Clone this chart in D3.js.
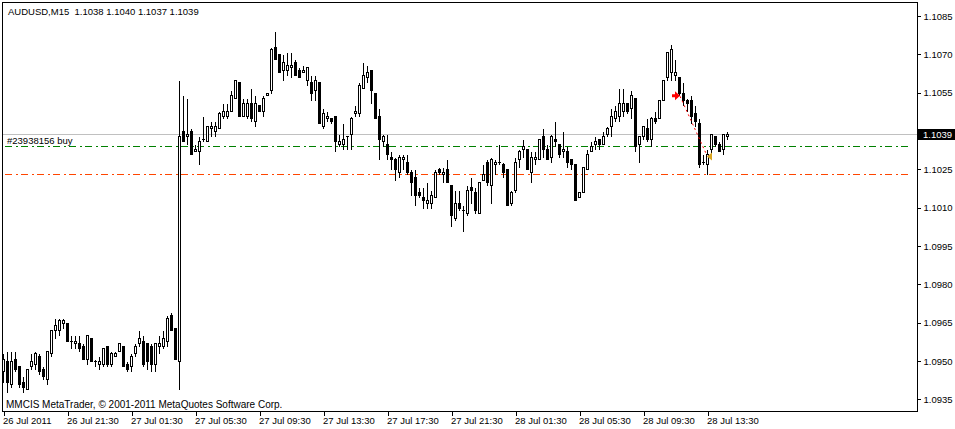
<!DOCTYPE html>
<html><head><meta charset="utf-8">
<script src="https://cdn.jsdelivr.net/npm/d3@7"></script>
<style>
html,body{margin:0;padding:0;background:#fff;}
svg{display:block;}
text{font-family:"Liberation Sans",Arial,sans-serif;font-size:9.5px;fill:#000;white-space:pre;}
</style></head><body>
<svg id="c" width="955" height="429"></svg>
<script>
const symbolTitle = "AUDUSD,M15  1.1038 1.1040 1.1037 1.1039";
const copyright = "MMCIS MetaTrader, \u00a9 2001-2011 MetaQuotes Software Corp.";
const orderLabel = "#23938156 buy";

const opens = [
1.0946,1.0950,1.0941,1.0951,1.0948,1.0942,1.0939,1.0948,1.0949,1.0952,
1.0947,1.0943,1.0953,1.0962,1.0962,1.0965,1.0965,1.0958,1.0957,1.0957,
1.0956,1.0951,1.0959,1.0950,1.0949,1.0949,1.0956,1.0949,1.0952,1.0954,
1.0956,1.0949,1.0948,1.0953,1.0957,1.0958,1.0957,1.0956,1.0949,1.0956,
1.0956,1.0958,1.0968,1.0963,1.0950,1.1040,1.1038,1.1040,1.1032,1.1032,
1.1037,1.1036,1.1041,1.1040,1.1041,1.1046,1.1046,1.1048,1.1053,1.1059,
1.1046,1.1046,1.1051,1.1044,1.1050,1.1048,1.1054,1.1056,1.1073,1.1070,
1.1064,1.1064,1.1065,1.1067,1.1064,1.1063,1.1060,1.1059,1.1056,1.1059,
1.1042,1.1045,1.1045,1.1046,1.1035,1.1035,1.1038,1.1039,1.1047,1.1047,
1.1057,1.1061,1.1064,1.1055,1.1046,1.1036,1.1035,1.1030,1.1029,1.1024,
1.1029,1.1028,1.1024,1.1022,1.1016,1.1014,1.1012,1.1012,1.1014,1.1025,
1.1023,1.1025,1.1019,1.1006,1.1012,1.1009,1.1008,1.1018,1.1016,1.1008,
1.1021,1.1028,1.1019,1.1027,1.1028,1.1027,1.1025,1.1012,1.1017,1.1029,
1.1033,1.1033,1.1024,1.1029,1.1029,1.1038,1.1033,1.1030,1.1037,1.1035,
1.1032,1.1032,1.1029,1.1027,1.1014,1.1016,1.1025,1.1032,1.1035,1.1037,
1.1035,1.1039,1.1042,1.1045,1.1046,1.1048,1.1051,1.1049,1.1053,1.1035,
1.1038,1.1041,1.1037,1.1045,1.1045,1.1052,1.1061,1.1063,1.1062,1.1061,
1.1055,1.1052,1.1052,1.1047,1.1043,1.1028,1.1027,1.1033,1.1038,1.1035,
1.1033,1.1038];
const highs = [
1.0953,1.0954,1.0954,1.0954,1.0948,1.0944,1.0947,1.0953,1.0954,1.0953,
1.0948,1.0954,1.0962,1.0967,1.0967,1.0967,1.0965,1.0960,1.0960,1.0960,
1.0957,1.0960,1.0959,1.0951,1.0952,1.0955,1.0956,1.0954,1.0954,1.0957,
1.0956,1.0950,1.0953,1.0957,1.0962,1.0960,1.0957,1.0957,1.0957,1.0960,
1.0962,1.0968,1.0969,1.0963,1.1060,1.1054,1.1053,1.1041,1.1035,1.1038,
1.1046,1.1042,1.1044,1.1044,1.1048,1.1051,1.1051,1.1056,1.1060,1.1059,
1.1053,1.1053,1.1057,1.1054,1.1050,1.1054,1.1055,1.1073,1.1079,1.1070,
1.1070,1.1071,1.1071,1.1068,1.1065,1.1066,1.1065,1.1062,1.1062,1.1059,
1.1049,1.1048,1.1045,1.1046,1.1039,1.1043,1.1038,1.1046,1.1050,1.1059,
1.1067,1.1066,1.1064,1.1055,1.1049,1.1039,1.1039,1.1032,1.1030,1.1031,
1.1031,1.1031,1.1025,1.1025,1.1018,1.1018,1.1020,1.1017,1.1025,1.1026,
1.1026,1.1029,1.1019,1.1017,1.1017,1.1011,1.1019,1.1022,1.1018,1.1020,
1.1027,1.1029,1.1030,1.1029,1.1035,1.1028,1.1025,1.1017,1.1030,1.1033,
1.1037,1.1033,1.1032,1.1032,1.1037,1.1041,1.1035,1.1039,1.1044,1.1035,
1.1040,1.1034,1.1029,1.1027,1.1016,1.1026,1.1033,1.1036,1.1038,1.1037,
1.1040,1.1042,1.1049,1.1050,1.1057,1.1057,1.1051,1.1056,1.1053,1.1038,
1.1042,1.1045,1.1046,1.1048,1.1052,1.1060,1.1071,1.1074,1.1068,1.1061,
1.1059,1.1053,1.1054,1.1050,1.1045,1.1031,1.1033,1.1039,1.1038,1.1036,
1.1039,1.1040];
const lows = [
1.0942,1.0938,1.0940,1.0946,1.0940,1.0938,1.0939,1.0947,1.0947,1.0945,
1.0943,1.0941,1.0952,1.0959,1.0960,1.0963,1.0958,1.0955,1.0955,1.0954,
1.0951,1.0949,1.0950,1.0948,1.0947,1.0948,1.0948,1.0948,1.0952,1.0954,
1.0948,1.0946,1.0946,1.0952,1.0956,1.0948,1.0947,1.0946,1.0946,1.0953,
1.0955,1.0956,1.0962,1.0951,1.0939,1.1036,1.1035,1.1031,1.1032,1.1027,
1.1036,1.1036,1.1038,1.1038,1.1041,1.1045,1.1045,1.1048,1.1053,1.1046,
1.1046,1.1045,1.1044,1.1042,1.1048,1.1046,1.1054,1.1055,1.1068,1.1063,
1.1060,1.1062,1.1061,1.1062,1.1061,1.1063,1.1058,1.1052,1.1052,1.1043,
1.1041,1.1044,1.1043,1.1032,1.1034,1.1033,1.1033,1.1033,1.1046,1.1046,
1.1057,1.1059,1.1051,1.1045,1.1029,1.1034,1.1029,1.1025,1.1021,1.1022,
1.1025,1.1023,1.1015,1.1011,1.1014,1.1010,1.1010,1.1010,1.1014,1.1023,
1.1020,1.1020,1.1003,1.1005,1.1009,1.1001,1.1007,1.1012,1.1008,1.1008,
1.1021,1.1019,1.1012,1.1023,1.1027,1.1022,1.1011,1.1011,1.1016,1.1026,
1.1030,1.1025,1.1020,1.1027,1.1029,1.1030,1.1029,1.1028,1.1034,1.1030,
1.1030,1.1026,1.1025,1.1013,1.1014,1.1016,1.1025,1.1032,1.1033,1.1033,
1.1035,1.1038,1.1038,1.1044,1.1044,1.1046,1.1047,1.1045,1.1032,1.1028,
1.1037,1.1036,1.1034,1.1043,1.1045,1.1052,1.1060,1.1060,1.1060,1.1054,
1.1050,1.1048,1.1043,1.1042,1.1026,1.1027,1.1023,1.1030,1.1034,1.1032,
1.1031,1.1037];
const closes = [
1.0951,1.0942,1.0950,1.0947,1.0941,1.0940,1.0947,1.0950,1.0953,1.0946,
1.0944,1.0954,1.0962,1.0964,1.0966,1.0966,1.0958,1.0958,1.0958,1.0955,
1.0951,1.0960,1.0950,1.0950,1.0950,1.0955,1.0949,1.0953,1.0953,1.0957,
1.0948,1.0947,1.0952,1.0956,1.0959,1.0949,1.0950,1.0949,1.0957,1.0957,
1.0959,1.0967,1.0962,1.0951,1.1038,1.1036,1.1039,1.1031,1.1033,1.1036,
1.1037,1.1042,1.1042,1.1042,1.1047,1.1048,1.1048,1.1054,1.1060,1.1046,
1.1051,1.1051,1.1045,1.1051,1.1048,1.1053,1.1055,1.1072,1.1068,1.1063,
1.1067,1.1066,1.1066,1.1062,1.1061,1.1064,1.1065,1.1055,1.1060,1.1043,
1.1047,1.1046,1.1044,1.1036,1.1036,1.1037,1.1038,1.1045,1.1048,1.1058,
1.1062,1.1063,1.1056,1.1045,1.1037,1.1038,1.1031,1.1029,1.1025,1.1030,
1.1030,1.1024,1.1020,1.1015,1.1015,1.1013,1.1013,1.1015,1.1024,1.1024,
1.1024,1.1020,1.1007,1.1012,1.1010,1.1009,1.1017,1.1017,1.1009,1.1020,
1.1023,1.1020,1.1029,1.1028,1.1028,1.1024,1.1011,1.1016,1.1028,1.1032,
1.1034,1.1025,1.1030,1.1030,1.1037,1.1033,1.1029,1.1038,1.1036,1.1031,
1.1033,1.1028,1.1027,1.1013,1.1016,1.1026,1.1031,1.1034,1.1036,1.1035,
1.1038,1.1041,1.1046,1.1048,1.1051,1.1051,1.1048,1.1054,1.1034,1.1038,
1.1042,1.1037,1.1045,1.1044,1.1052,1.1060,1.1071,1.1072,1.1063,1.1055,
1.1052,1.1051,1.1046,1.1044,1.1027,1.1028,1.1031,1.1039,1.1035,1.1032,
1.1039,1.1039];

const timeTickIndex = [0,16,32,48,64,80,96,112,128,144,160,176];
const timeTickLabels = ["26 Jul 2011","26 Jul 21:30","27 Jul 01:30","27 Jul 05:30","27 Jul 09:30","27 Jul 13:30",
  "27 Jul 17:30","27 Jul 21:30","28 Jul 01:30","28 Jul 05:30","28 Jul 09:30","28 Jul 13:30"];
const priceTicks = [1.0935,1.0950,1.0965,1.0980,1.0995,1.1010,1.1025,1.1040,1.1055,1.1070,1.1085];

const bidPrice = 1.1039;
const orderPrice = 1.1034;
const stopPrice = 1.1023;
const tradeOpenIndex = 169, tradeOpenPrice = 1.1054;
const tradeCloseIndex = 176, tradeClosePrice = 1.1030;

const svg = d3.select("#c");
const x = d3.scaleLinear().domain([0, 181]).range([3, 727]);
const y = d3.scaleLinear().domain([1.0935, 1.1085]).range([399.4, 16]);
const cx = i => Math.round(x(i));
const py = v => Math.round(y(v)) + 0.5;

const L = 2.5, T = 2.5, R = 917.5, B = 411.5;

// horizontal price lines
svg.append("line").attr("x1", L).attr("x2", R).attr("y1", py(bidPrice)).attr("y2", py(bidPrice))
  .attr("stroke", "#c0c0c0").attr("shape-rendering", "crispEdges");
svg.append("line").attr("x1", 5).attr("x2", 912).attr("y1", py(orderPrice)).attr("y2", py(orderPrice))
  .attr("stroke", "#008000").attr("stroke-dasharray", "7,4,2,3").attr("shape-rendering", "crispEdges");
svg.append("line").attr("x1", 5).attr("x2", 912).attr("y1", py(stopPrice)).attr("y2", py(stopPrice))
  .attr("stroke", "#ff4500").attr("stroke-dasharray", "7,4,2,3").attr("shape-rendering", "crispEdges");

svg.append("text").attr("x", 7).attr("y", 144).text(orderLabel);

// candles
const idx = d3.range(opens.length);
const g = svg.append("g").attr("shape-rendering", "crispEdges");
g.selectAll("line.w").data(idx).join("line").attr("class", "w")
  .attr("x1", i => cx(i) + 0.5).attr("x2", i => cx(i) + 0.5)
  .attr("y1", i => py(highs[i])).attr("y2", i => py(lows[i]) + 0.5)
  .attr("stroke", "#000");
g.selectAll("rect.b").data(idx.filter(i => opens[i] !== closes[i])).join("rect").attr("class", "b")
  .attr("x", i => cx(i) - 0.5).attr("width", 2)
  .attr("y", i => py(Math.max(opens[i], closes[i])))
  .attr("height", i => py(Math.min(opens[i], closes[i])) - py(Math.max(opens[i], closes[i])))
  .attr("fill", i => closes[i] > opens[i] ? "#fff" : "#000")
  .attr("stroke", "#000");
g.selectAll("line.d").data(idx.filter(i => opens[i] === closes[i])).join("line").attr("class", "d")
  .attr("x1", i => cx(i) - 1).attr("x2", i => cx(i) + 2)
  .attr("y1", i => py(opens[i])).attr("y2", i => py(opens[i]))
  .attr("stroke", "#000");

// closed trade marks
const ox = cx(tradeOpenIndex), oy = y(tradeOpenPrice);
const qx = cx(tradeCloseIndex), qy = y(tradeClosePrice);
svg.append("line").attr("x1", ox + 1).attr("y1", oy + 1).attr("x2", qx).attr("y2", qy - 1)
  .attr("stroke", "#ff0000").attr("stroke-dasharray", "2,3");
svg.append("path")
  .attr("d", `M${ox-6},${oy-1} L${ox-3},${oy-1} L${ox-3},${oy-4} L${ox+2},${oy+0.5} L${ox-3},${oy+5} L${ox-3},${oy+2} L${ox-6},${oy+2} Z`)
  .attr("fill", "#ff0000").attr("transform", "translate(-1,0)");
svg.append("path")
  .attr("d", `M${qx},${qy} L${qx+5},${qy-4} L${qx+5},${qy+4} Z`)
  .attr("fill", "#daa520");

// axes
const ay = svg.append("g").attr("transform", `translate(${R},0)`)
  .call(d3.axisRight(y).tickValues(priceTicks).tickFormat(d3.format(".4f")).tickSize(3).tickPadding(3));
ay.select(".domain").remove();
ay.selectAll("text").attr("font-family", null).attr("font-size", null);
ay.selectAll("line").attr("shape-rendering", "crispEdges");
// the label under the current-price box is hidden by it
ay.selectAll(".tick").filter(d => Math.abs(y(d) - y(bidPrice)) < 8).select("text").remove();

const ax = svg.append("g").attr("transform", `translate(0,${B})`)
  .call(d3.axisBottom(x).tickValues(timeTickIndex).tickFormat((d, i) => timeTickLabels[i]).tickSize(4));
ax.select(".domain").remove();
ax.selectAll("line").attr("transform", "translate(0.5,0)").attr("shape-rendering", "crispEdges");
ax.selectAll("text").attr("font-family", null).attr("font-size", null)
  .attr("text-anchor", "start").attr("x", -0.5).attr("dy", null).attr("y", 12.5);

// bid price label
const by = py(bidPrice);
svg.append("rect").attr("x", 918).attr("y", by - 5.5).attr("width", 37).attr("height", 11).attr("fill", "#000");
svg.append("text").attr("x", 923).attr("y", by).attr("dy", "0.35em").style("fill", "#fff").text(d3.format(".4f")(bidPrice));

// frame
svg.append("rect").attr("x", L).attr("y", T).attr("width", R - L).attr("height", B - T)
  .attr("fill", "none").attr("stroke", "#000").attr("shape-rendering", "crispEdges");

svg.append("text").attr("x", 8).attr("y", 15).text(symbolTitle);
svg.append("text").attr("x", 6).attr("y", 408).style("font-size", "10px").text(copyright);
</script>
</body></html>
